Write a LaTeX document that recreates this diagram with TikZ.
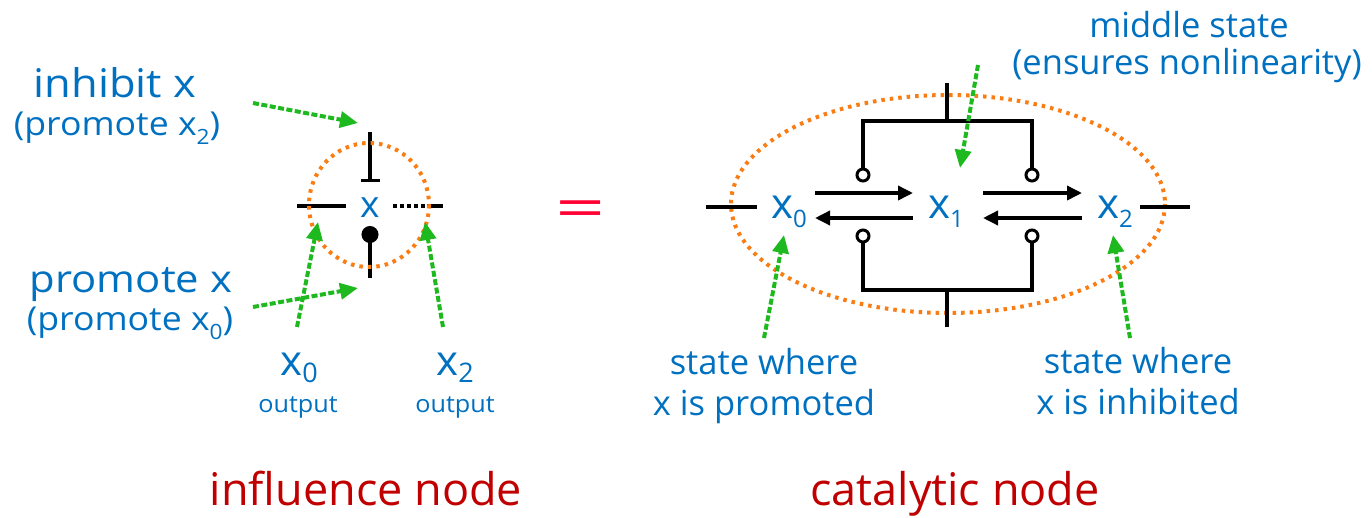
\documentclass[tikz,border=0pt]{standalone}
\usepackage{fontspec}
\setmainfont{Open Sans}
\usetikzlibrary{arrows.meta}

\definecolor{txtblue}{RGB}{0,112,192}
\definecolor{capred}{RGB}{192,0,0}
\definecolor{eqred}{RGB}{255,0,51}
\definecolor{ringorange}{RGB}{250,125,20}
\definecolor{hintgreen}{RGB}{30,185,30}

% font size in pt, with a matching line height
\newcommand\fs[1]{\fontsize{#1}{#1}\selectfont}
% lowered subscript: size, drop, text
\newcommand\lowsub[3]{\raisebox{-#2pt}{\fontsize{#1}{#1}\selectfont #3}}
% horizontally widened text
\newcommand\wide[2]{\scalebox{#1}[1]{#2}}

\begin{document}
\begin{tikzpicture}[x=1pt, y=-1pt,
  lbl/.style={inner sep=0pt, outer sep=0pt, text=txtblue, anchor=base},
  caption/.style={inner sep=0pt, outer sep=0pt, text=capred, anchor=base, font=\fs{45}},
  wire/.style={line width=3.5pt, draw=black},
  rxn/.style={wire, -{Triangle[length=15pt,width=14pt]}},
  ringlet/.style={circle, draw=black, line width=3pt, fill=white, minimum size=12pt,
                  inner sep=0pt, outer sep=0pt},
  ring/.style={draw=ringorange, line width=4pt, dash pattern=on 3.5pt off 5pt},
  hint/.style={draw=hintgreen, line width=4pt, dash pattern=on 6pt off 2.5pt,
               -{Triangle[length=18pt,width=16pt]}},
]
\useasboundingbox (0,0) rectangle (1372,517);

% ---------------- influence node ----------------
\node[lbl, font=\fs{37}] (xc) at (370,217) {x};

\coordinate (inTop) at (370,132);
\coordinate (inEnd) at (370,182);
\coordinate (prBot) at (370,278);
\coordinate (prEnd) at (370,226);
\coordinate (inL) at (297,206);
\coordinate (inLe) at (346,206);
\coordinate (outA) at (393,206);
\coordinate (outB) at (427,206);
\coordinate (outC) at (443,206);

\draw[wire, -{Bar[width=19pt]}] (inTop) -- (inEnd);
\draw[wire, -{Circle[length=17pt]}] (prBot) -- (prEnd);
\draw[wire] (inL) -- (inLe);
\draw[wire, dash pattern=on 4pt off 3pt] (outA) -- (outB);
\draw[wire] (outB) -- (outC);

\draw[ring] (369,205) ellipse [x radius=60, y radius=62];

\node[lbl, font=\fs{39.5}] (inh) at (115,97) {\wide{1.1}{inhibit x}};
\node[lbl, font=\fs{33}] (inh2) at (117,135) {\wide{1.08}{(promote x\lowsub{21}{9}{2})}};
\node[lbl, font=\fs{38}] (pro) at (131,292) {\wide{1.1}{promote x}};
\node[lbl, font=\fs{33}] (pro2) at (130,330) {\wide{1.08}{(promote x\lowsub{21}{9}{0})}};

\node[lbl, font=\fs{42}] (lx0) at (299,375) {x\lowsub{27}{7}{0}};
\node[lbl, font=\fs{24}] (lo0) at (298,412) {\wide{1.05}{output}};
\node[lbl, font=\fs{42}] (lx2) at (455,375) {x\lowsub{27}{7}{2}};
\node[lbl, font=\fs{24}] (lo2) at (455,412) {\wide{1.05}{output}};

\coordinate (hA1) at (253,103); \coordinate (hA2) at (358,123);
\coordinate (hB1) at (253,307); \coordinate (hB2) at (358,288);
\coordinate (hC1) at (297,327); \coordinate (hC2) at (318,222);
\coordinate (hD1) at (443,327); \coordinate (hD2) at (425,222);
\draw[hint] (hA1) -- (hA2);
\draw[hint] (hB1) -- (hB2);
\draw[hint] (hC1) -- (hC2);
\draw[hint] (hD1) -- (hD2);

% ---------------- equals sign ----------------
\node[inner sep=0pt, anchor=base, text=eqred, font=\fs{55}] (eq) at (581,227) {\wide{1.6}{=}};

% ---------------- catalytic node ----------------
\draw[ring] (948,204) ellipse [x radius=217, y radius=109];

\node[lbl, anchor=base west, font=\fs{42}] (x0) at (771,218) {x\lowsub{24}{9}{0}};
\node[lbl, anchor=base west, font=\fs{42}] (x1) at (928,218) {x\lowsub{24}{9}{1}};
\node[lbl, anchor=base west, font=\fs{42}] (x2) at (1097,218) {x\lowsub{24}{9}{2}};

\coordinate (stL1) at (706,207); \coordinate (stL2) at (757,207);
\coordinate (stR1) at (1140,207); \coordinate (stR2) at (1190,207);
\draw[wire] (stL1) -- (stL2);
\draw[wire] (stR1) -- (stR2);

\coordinate (f01a) at (815,193); \coordinate (f01b) at (913,193);
\coordinate (b10a) at (913,218); \coordinate (b10b) at (815,218);
\coordinate (f12a) at (983,193); \coordinate (f12b) at (1082,193);
\coordinate (b21a) at (1082,218); \coordinate (b21b) at (983,218);
\draw[rxn] (f01a) -- (f01b);
\draw[rxn] (b10a) -- (b10b);
\draw[rxn] (f12a) -- (f12b);
\draw[rxn] (b21a) -- (b21b);

% catalyst brackets ending in small open rings
\coordinate (topIn) at (947,83);  \coordinate (topMid) at (947,121);
\coordinate (botIn) at (947,327); \coordinate (botMid) at (947,290);
\node[ringlet] (cTL) at (863,175) {};
\node[ringlet] (cTR) at (1032,175) {};
\node[ringlet] (cBL) at (863,236) {};
\node[ringlet] (cBR) at (1032,236) {};
\draw[wire] (topIn) -- (topMid);
\draw[wire] (cTL) |- (topMid) -| (cTR);
\draw[wire] (botIn) -- (botMid);
\draw[wire] (cBL) |- (botMid) -| (cBR);

\node[lbl, font=\fs{34.5}] (mid1) at (1189,37) {middle state};
\node[lbl, font=\fs{34.5}] (mid2) at (1187,74) {(ensures nonlinearity)};
\node[lbl, font=\fs{34.5}, align=center] (stp) at (764,415) {state where\\[6pt]x is promoted};
\node[lbl, font=\fs{34.5}, align=center] (sti) at (1138,414) {state where\\[6pt]x is inhibited};

\coordinate (hE1) at (978,65);   \coordinate (hE2) at (960,168);
\coordinate (hF1) at (764,338);  \coordinate (hF2) at (784,235);
\coordinate (hG1) at (1130,338); \coordinate (hG2) at (1113,235);
\draw[hint] (hE1) -- (hE2);
\draw[hint] (hF1) -- (hF2);
\draw[hint] (hG1) -- (hG2);

% ---------------- captions ----------------
\node[caption] (capL) at (366,505) {influence node};
\node[caption] (capR) at (955,505) {catalytic node};
\end{tikzpicture}
\end{document}
